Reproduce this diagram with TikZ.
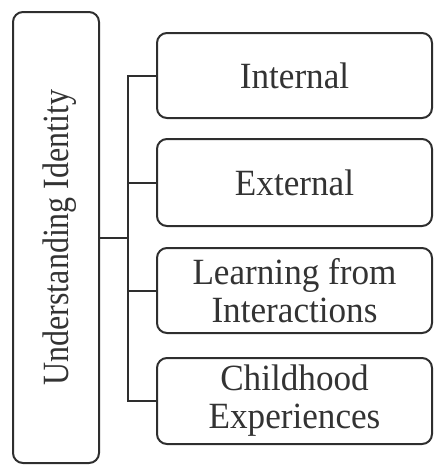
\documentclass[tikz,border=0pt]{standalone}
\usepackage{fontspec}
\setmainfont{Liberation Serif}
\newfontfamily\boxfont[FakeStretch=0.95]{Liberation Serif}
\newfontfamily\sidefont[FakeStretch=0.865]{Liberation Serif}
\definecolor{ink}{HTML}{2E2E2E}
\definecolor{txt}{HTML}{333333}
\begin{document}
\begin{tikzpicture}[x=1pt,y=-1pt,
  box/.style={draw=ink, line width=2pt, rounded corners=10pt, rectangle, inner sep=0pt},
  lbl/.style={text=txt, align=center, font=\boxfont\fontsize{37}{38}\selectfont},
  conn/.style={draw=ink, line width=2pt}]
\useasboundingbox (0,0) rectangle (434,466);
% left tall box
\node[box, minimum width=86pt, minimum height=451pt] (L) at (56,237.5) {};
\node[text=txt, rotate=90, anchor=base, font=\sidefont\fontsize{37}{38}\selectfont, inner sep=0pt] (Lt) at (68,237.5) {Understanding Identity};
% right boxes
\node[box, minimum width=275pt, minimum height=85pt] (b1) at (294.5,75.5) {};
\node[box, minimum width=275pt, minimum height=87pt] (b2) at (294.5,182.5) {};
\node[box, minimum width=275pt, minimum height=85pt] (b3) at (294.5,290.5) {};
\node[box, minimum width=275pt, minimum height=86pt] (b4) at (294.5,401) {};
\node[lbl] (t1) at (b1.center) {Internal};
\node[lbl] (t2) at (b2.center) {External};
\node[lbl] (t3) at (b3.center) {Learning from\\Interactions};
\node[lbl] (t4) at (b4.center) {Childhood\\Experiences};
% connectors
\coordinate (j) at (128,237.5);
\draw[conn] (L.east) -- (j);
\draw[conn] (b1.west) -- (b1.west -| j) -- (b4.west -| j) -- (b4.west);
\draw[conn] (b2.west) -- (b2.west -| j);
\draw[conn] (b3.west) -- (b3.west -| j);
\end{tikzpicture}
\end{document}
